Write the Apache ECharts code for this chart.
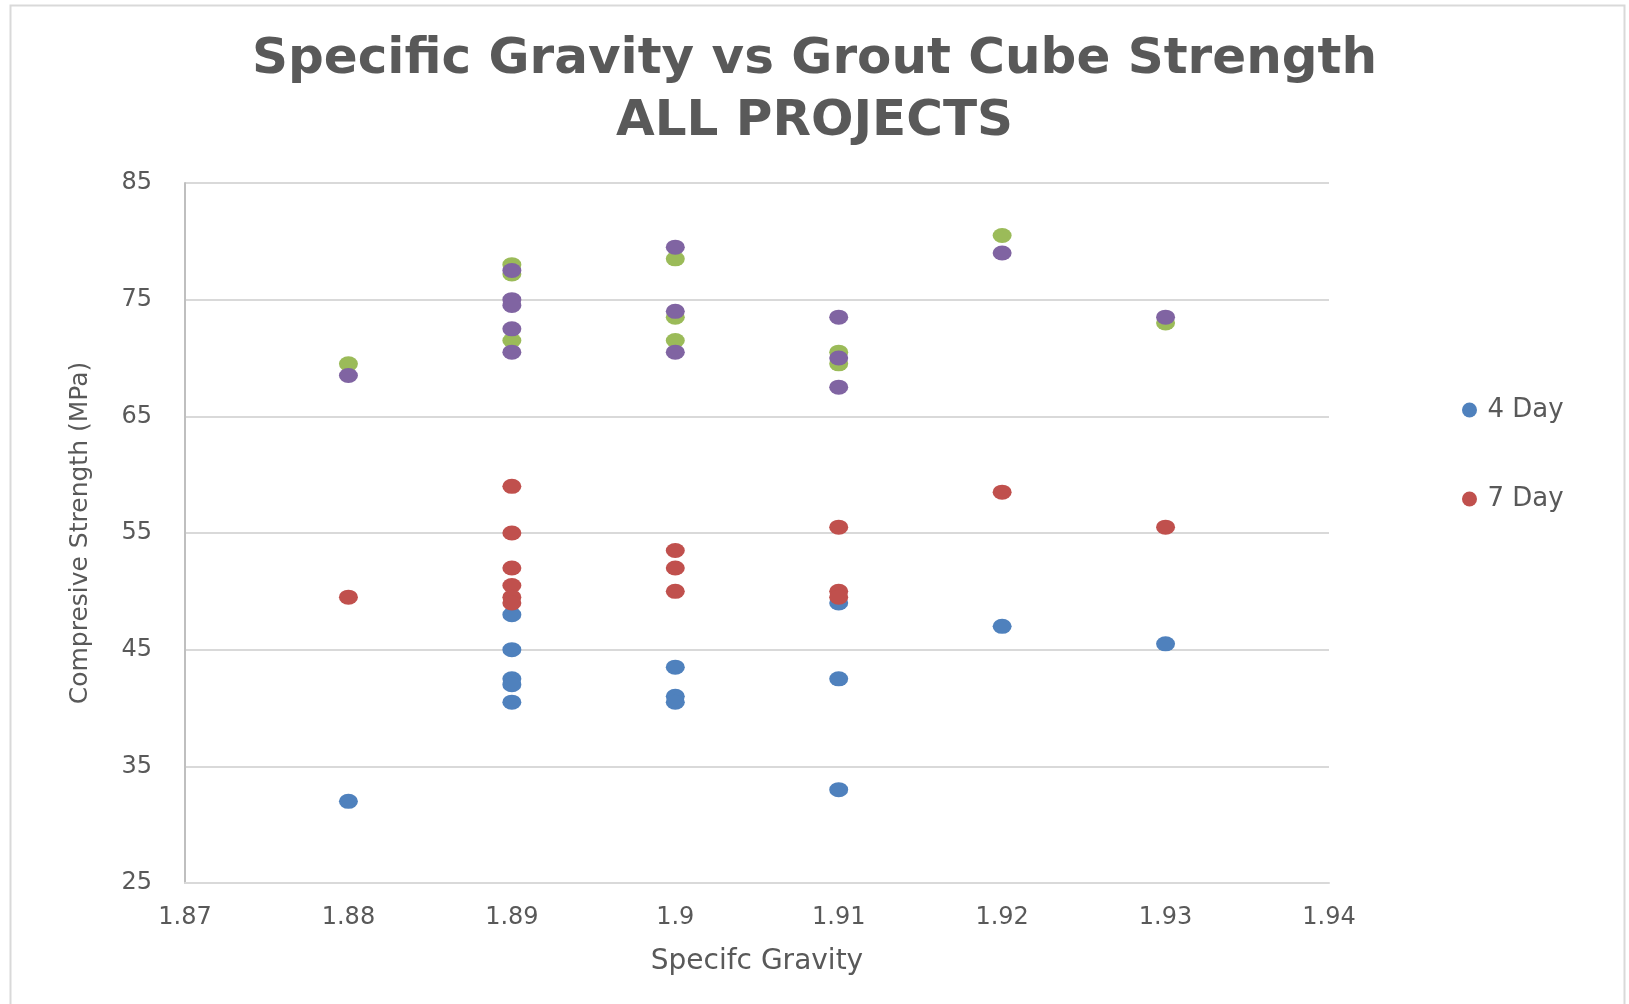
<!DOCTYPE html>
<html>
<head>
<meta charset="utf-8">
<script src="https://cdn.jsdelivr.net/npm/echarts@6/dist/echarts.min.js"></script>
<style>
html,body{margin:0;padding:0;background:#fff;}
#chart{width:1629px;height:1004px;}
</style>
</head>
<body>
<div id="chart"></div>
<script>
// ---- data ----
const titleLines = ['Specific Gravity vs Grout Cube Strength', 'ALL PROJECTS'];
const xAxisTitle = 'Specifc Gravity';
const yAxisTitle = 'Compresive Strength (MPa)';
const xTicks = [1.87, 1.88, 1.89, 1.9, 1.91, 1.92, 1.93, 1.94];
const yTicks = [25, 35, 45, 55, 65, 75, 85];
const seriesNames = ['4 Day', '7 Day', '14 Day', '28 Day'];
const legendNames = ['4 Day', '7 Day'];

const day4 = [
  [1.88, 32],
  [1.89, 48], [1.89, 45], [1.89, 42.5], [1.89, 42], [1.89, 40.5],
  [1.90, 43.5], [1.90, 41], [1.90, 40.5],
  [1.91, 49], [1.91, 42.5], [1.91, 33],
  [1.92, 47],
  [1.93, 45.5]
];
const day7 = [
  [1.88, 49.5],
  [1.89, 59], [1.89, 55], [1.89, 52], [1.89, 50.5], [1.89, 49.5], [1.89, 49],
  [1.90, 53.5], [1.90, 52], [1.90, 50],
  [1.91, 55.5], [1.91, 50], [1.91, 49.5],
  [1.92, 58.5],
  [1.93, 55.5]
];
const day14 = [
  [1.88, 69.5],
  [1.89, 78], [1.89, 77.2], [1.89, 71.5],
  [1.90, 78.5], [1.90, 73.5], [1.90, 71.5],
  [1.91, 70.5], [1.91, 69.5],
  [1.92, 80.5],
  [1.93, 73]
];
const day28 = [
  [1.88, 68.5],
  [1.89, 77.5], [1.89, 75], [1.89, 74.5], [1.89, 72.5], [1.89, 70.5],
  [1.90, 79.5], [1.90, 74], [1.90, 70.5],
  [1.91, 73.5], [1.91, 70], [1.91, 67.5],
  [1.92, 79],
  [1.93, 73.5]
];
const seriesData = [day4, day7, day14, day28];
const colors = ['#4F81BD', '#C0504D', '#9BBB59', '#8064A2'];

// ---- chart ----
const ellipse = 'path://M0,50 A50,50 0 1,1 100,50 A50,50 0 1,1 0,50 Z';
const FONT = 'DejaVu Sans';
const TEXT = '#595959';

const chart = echarts.init(document.getElementById('chart'), null, {renderer: 'canvas'});
chart.setOption({
  animation: false,
  backgroundColor: '#ffffff',
  color: colors,
  graphic: [{
    type: 'rect',
    shape: {x: 10.5, y: 5.5, width: 1614, height: 1010},
    style: {fill: 'none', stroke: '#D9D9D9', lineWidth: 2},
    silent: true, z: -1
  }],
  title: {
    text: titleLines.join('\n'),
    left: 'center',
    top: 24,
    textStyle: {
      fontFamily: FONT, fontWeight: 'bold', fontSize: 50,
      color: TEXT, lineHeight: 62
    }
  },
  legend: {
    data: legendNames,
    orient: 'vertical',
    left: 1457,
    top: 392,
    itemWidth: 20,
    itemHeight: 15,
    itemGap: 63,
    icon: ellipse,
    textStyle: {fontFamily: FONT, fontSize: 26, color: TEXT, padding: [0, 0, 0, 3]}
  },
  grid: {left: 185, right: 300, top: 183, bottom: 121, containLabel: false},
  xAxis: {
    type: 'value',
    min: xTicks[0],
    max: xTicks[xTicks.length - 1],
    interval: 0.01,
    name: xAxisTitle,
    nameLocation: 'middle',
    nameGap: 65,
    nameTextStyle: {fontFamily: FONT, fontSize: 28, color: TEXT},
    axisLine: {show: true, onZero: false, lineStyle: {color: '#D9D9D9', width: 2}},
    axisTick: {show: false},
    splitLine: {show: false},
    axisLabel: {
      fontFamily: FONT, fontSize: 24, color: TEXT, margin: 23,
      formatter: v => String(+v.toFixed(2))
    }
  },
  yAxis: {
    type: 'value',
    min: yTicks[0],
    max: yTicks[yTicks.length - 1],
    interval: 10,
    name: yAxisTitle,
    nameLocation: 'middle',
    nameGap: 92,
    nameRotate: 90,
    nameTextStyle: {fontFamily: FONT, fontSize: 25, color: TEXT},
    axisLine: {show: true, lineStyle: {color: '#BFBFBF', width: 2}},
    axisTick: {show: false},
    splitLine: {show: true, lineStyle: {color: '#D9D9D9', width: 2}},
    axisLabel: {fontFamily: FONT, fontSize: 24, color: TEXT, margin: 33}
  },
  series: seriesData.map((d, i) => ({
    name: seriesNames[i],
    type: 'scatter',
    data: d,
    symbol: ellipse,
    symbolSize: [19, 15],
    itemStyle: {color: colors[i], opacity: 1},
    z: 2 + i
  }))
});
</script>
</body>
</html>
